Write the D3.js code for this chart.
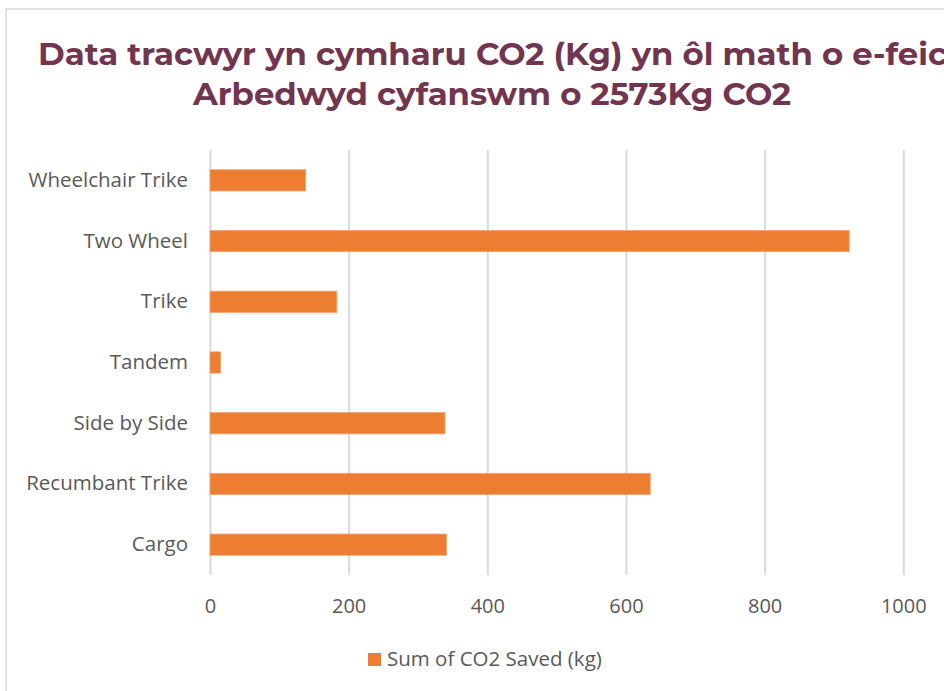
<!DOCTYPE html>
<html>
<head>
<meta charset="utf-8">
<script src="https://cdn.jsdelivr.net/npm/d3@7"></script>
<style>
  body { margin: 0; background: #fff; }
  .grid line { stroke: #d9d9d9; stroke-width: 2; }
  .grid .domain { display: none; }
  .axis .domain { display: none; }
  .axis text { fill: #595959; font-family: "Open Sans", "Noto Sans", sans-serif; }
</style>
</head>
<body>
<div id="chart"></div>
<script>
// Data
const categories = ["Wheelchair Trike", "Two Wheel", "Trike", "Tandem", "Side by Side", "Recumbant Trike", "Cargo"];
const co2Saved = [138, 922, 183, 15, 339, 635, 341];
const xTicks = [0, 200, 400, 600, 800, 1000];
const titleLines = ["Data tracwyr yn cymharu CO2 (Kg) yn ôl math o e-feica", "Arbedwyd cyfanswm o 2573Kg CO2"];
const seriesName = "Sum of CO2 Saved (kg)";

const W = 944, H = 691;
const plot = { left: 210, right: 903.3, top: 150, bottom: 575 };

const svg = d3.select("#chart").append("svg")
  .attr("width", W)
  .attr("height", H);

// chart frame (right and bottom edges fall outside the picture)
svg.append("rect")
  .attr("x", 6).attr("y", 9)
  .attr("width", W + 20).attr("height", H + 20)
  .attr("fill", "#fff")
  .attr("stroke", "#d9d9d9")
  .attr("stroke-width", 1.5);

// Title - first line runs off the right edge like the original
const title = svg.append("g")
  .style("font-family", "Montserrat, 'Open Sans', sans-serif")
  .style("font-weight", "bold")
  .style("font-size", "30px")
  .style("fill", "#72354f");
title.append("text")
  .attr("x", 38).attr("y", 65)
  .attr("textLength", 929)
  .attr("lengthAdjust", "spacingAndGlyphs")
  .text(titleLines[0]);
title.append("text")
  .attr("x", 492).attr("y", 105)
  .attr("text-anchor", "middle")
  .attr("textLength", 598)
  .attr("lengthAdjust", "spacingAndGlyphs")
  .text(titleLines[1]);

// Scales
const x = d3.scaleLinear()
  .domain([0, 1000])
  .range([plot.left, plot.right]);

const y = d3.scaleBand()
  .domain(categories)
  .range([plot.top, plot.bottom])
  .paddingInner(0.65)
  .paddingOuter(0.325);

// Gridlines
svg.append("g")
  .attr("class", "grid")
  .attr("transform", "translate(0," + plot.bottom + ")")
  .call(d3.axisBottom(x).tickValues(xTicks).tickSize(-(plot.bottom - plot.top)).tickFormat(""));

// Bars
svg.append("g").selectAll("rect")
  .data(categories)
  .join("rect")
  .attr("x", x(0))
  .attr("y", d => y(d))
  .attr("width", (d, i) => x(co2Saved[i]) - x(0))
  .attr("height", y.bandwidth())
  .attr("fill", "#ed7d31")
  .attr("stroke", "#f3a470")
  .attr("stroke-width", 0.8);

// Axes
svg.append("g")
  .attr("class", "axis")
  .attr("transform", "translate(0," + plot.bottom + ")")
  .call(d3.axisBottom(x).tickValues(xTicks).tickFormat(d3.format("d")).tickSize(0).tickPadding(24))
  .selectAll("text").style("font-size", "20px");

svg.append("g")
  .attr("class", "axis")
  .attr("transform", "translate(" + plot.left + ",0)")
  .call(d3.axisLeft(y).tickSize(0).tickPadding(22))
  .selectAll("text").style("font-size", "20.5px");

// Legend
const legend = svg.append("g").attr("transform", "translate(368,653)");
legend.append("rect")
  .attr("width", 13).attr("height", 13)
  .attr("fill", "#ed7d31");
legend.append("text")
  .attr("x", 19).attr("y", 13)
  .style("font-family", "'Open Sans', 'Noto Sans', sans-serif")
  .style("font-size", "20.5px")
  .style("fill", "#595959")
  .text(seriesName);
</script>
</body>
</html>
